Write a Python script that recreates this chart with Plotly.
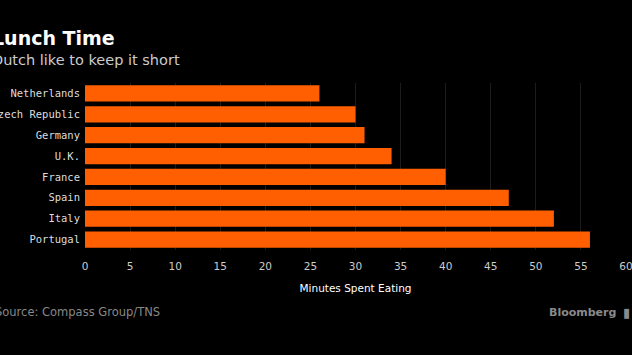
import plotly.graph_objects as go

countries = ["Netherlands", "Czech Republic", "Germany", "U.K.", "France", "Spain", "Italy", "Portugal"]
minutes = [26, 30, 31, 34, 40, 47, 52, 56]
x_ticks = [0, 5, 10, 15, 20, 25, 30, 35, 40, 45, 50, 55, 60]

fig = go.Figure(go.Bar(
    x=minutes, y=countries, orientation="h",
    marker=dict(color="#ff5f00", line=dict(width=0)),
    width=0.78,
))

fig.update_layout(
    width=632, height=355,
    paper_bgcolor="#000000", plot_bgcolor="#000000",
    margin=dict(l=85, r=6, t=83, b=105, autoexpand=False),
    showlegend=False,
    bargap=0.22,
    xaxis=dict(
        range=[0, 60], tickvals=x_ticks, showgrid=True, gridcolor="#1c1c1c", gridwidth=1,
        zeroline=False, showline=False, ticks="", automargin=False,
        ticklabeloverflow="allow", ticklabelstandoff=8,
        tickfont=dict(family="DejaVu Sans", size=10.5, color="#cccccc"),
        title=dict(text="Minutes Spent Eating", font=dict(family="DejaVu Sans", size=10.5, color="#ffffff"), standoff=14),
    ),
    yaxis=dict(
        autorange="reversed", showgrid=False, zeroline=False, showline=False, ticks="",
        automargin=False, ticklabeloverflow="allow",
        tickfont=dict(family="DejaVu Sans Mono", size=10.5, color="#dddddd"),
        ticklabelstandoff=4,
    ),
    annotations=[
        dict(text="<b>Lunch Time</b>", xref="paper", yref="paper", x=-0.176, y=1.0, yshift=45,
             xanchor="left", yanchor="middle", showarrow=False,
             font=dict(family="DejaVu Sans", size=19, color="#ffffff")),
        dict(text="Dutch like to keep it short", xref="paper", yref="paper", x=-0.176, y=1.0, yshift=23,
             xanchor="left", yanchor="middle", showarrow=False,
             font=dict(family="DejaVu Sans", size=14.5, color="#cccccc")),
        dict(text="Source: Compass Group/TNS", xref="paper", yref="paper", x=-0.170, y=0, yshift=-62,
             xanchor="left", yanchor="middle", showarrow=False,
             font=dict(family="DejaVu Sans", size=11.5, color="#888888")),
        dict(text="<b>Bloomberg</b>", xref="paper", yref="paper", x=1.0, y=0, yshift=-62, xshift=-8,
             xanchor="right", yanchor="middle", showarrow=False,
             font=dict(family="DejaVu Sans", size=11, color="#8a8a8a")),
        dict(text="▮", xref="paper", yref="paper", x=1.0, y=0, yshift=-62, xshift=6,
             xanchor="right", yanchor="middle", showarrow=False,
             font=dict(family="DejaVu Sans", size=13, color="#8a8a8a")),
    ],
)

fig.write_html("out.html", config={"displayModeBar": False},
               post_script="document.body.style.margin='0';document.body.style.overflow='hidden';")
